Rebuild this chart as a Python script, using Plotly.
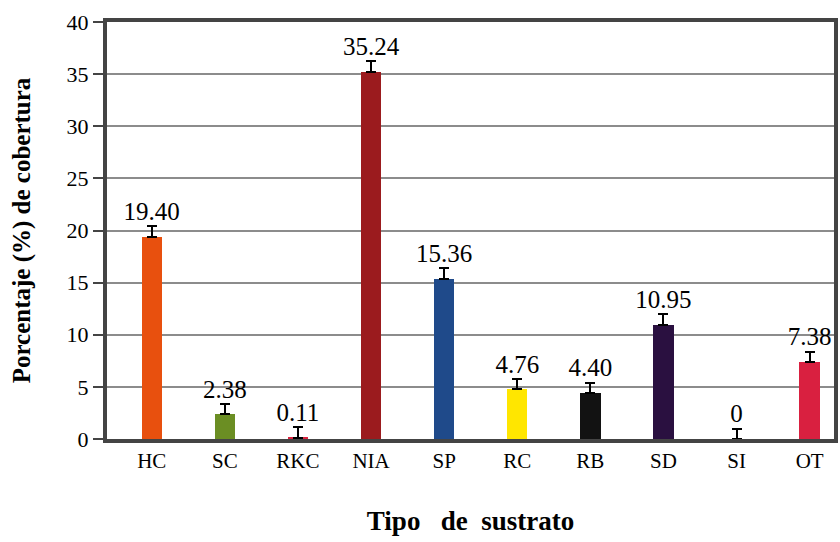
import plotly.graph_objects as go

categories = ["HC", "SC", "RKC", "NIA", "SP", "RC", "RB", "SD", "SI", "OT"]
values = [19.40, 2.38, 0.11, 35.24, 15.36, 4.76, 4.40, 10.95, 0, 7.38]
errors = [1.0, 1.0, 1.0, 1.0, 1.0, 1.0, 1.0, 1.0, 1.0, 1.0]
labels = ["19.40", "2.38", "0.11", "35.24", "15.36", "4.76", "4.40", "10.95", "0", "7.38"]
colors = ["#E8500E", "#6B8E23", "#D9233F", "#9B1B1E", "#1F4A8A",
          "#FFE600", "#121212", "#2A1040", "#FFFFFF", "#D92040"]

font = "Liberation Serif"

fig = go.Figure()
fig.add_trace(go.Bar(
    x=categories, y=values, marker=dict(color=colors, line=dict(width=0)),
    width=0.28,
    error_y=dict(type="data", array=errors, arrayminus=[0]*len(errors), symmetric=False,
                 color="black", thickness=2, width=5),
    showlegend=False, hoverinfo="skip",
))
fig.add_trace(go.Scatter(
    x=categories, y=[v + e for v, e in zip(values, errors)], text=labels,
    mode="text", textposition="top center",
    textfont=dict(family=font, size=25, color="black"),
    showlegend=False, hoverinfo="skip", cliponaxis=False,
))

fig.update_layout(
    width=840, height=542,
    margin=dict(l=107, r=2, t=22, b=103),
    paper_bgcolor="white", plot_bgcolor="white",
    font=dict(family=font, color="black"),
    xaxis=dict(
        range=[-0.612, 9.333], showline=True, mirror=True, linewidth=4, linecolor="#444444",
        tickfont=dict(family=font, size=21), ticks="", showgrid=False,
        title=dict(text="<b>Tipo&nbsp;&nbsp; de&nbsp; sustrato</b>", font=dict(family=font, size=27), standoff=40),
    ),
    yaxis=dict(
        range=[0, 40], dtick=5, showline=True, mirror=True, linewidth=4, linecolor="#444444",
        gridcolor="#8C8C8C", gridwidth=1.5, ticks="outside", ticklen=10, tickcolor="#444444",
        tickwidth=1.5, tickfont=dict(family=font, size=22), zeroline=False,
        title=dict(text="<b>Porcentaje (%) de cobertura</b>", font=dict(family=font, size=25), standoff=30),
    ),
    bargap=0,
)

fig.write_html("out.html", config={"displayModeBar": False},
               post_script="document.body.style.margin='0';document.body.style.overflow='hidden';")
